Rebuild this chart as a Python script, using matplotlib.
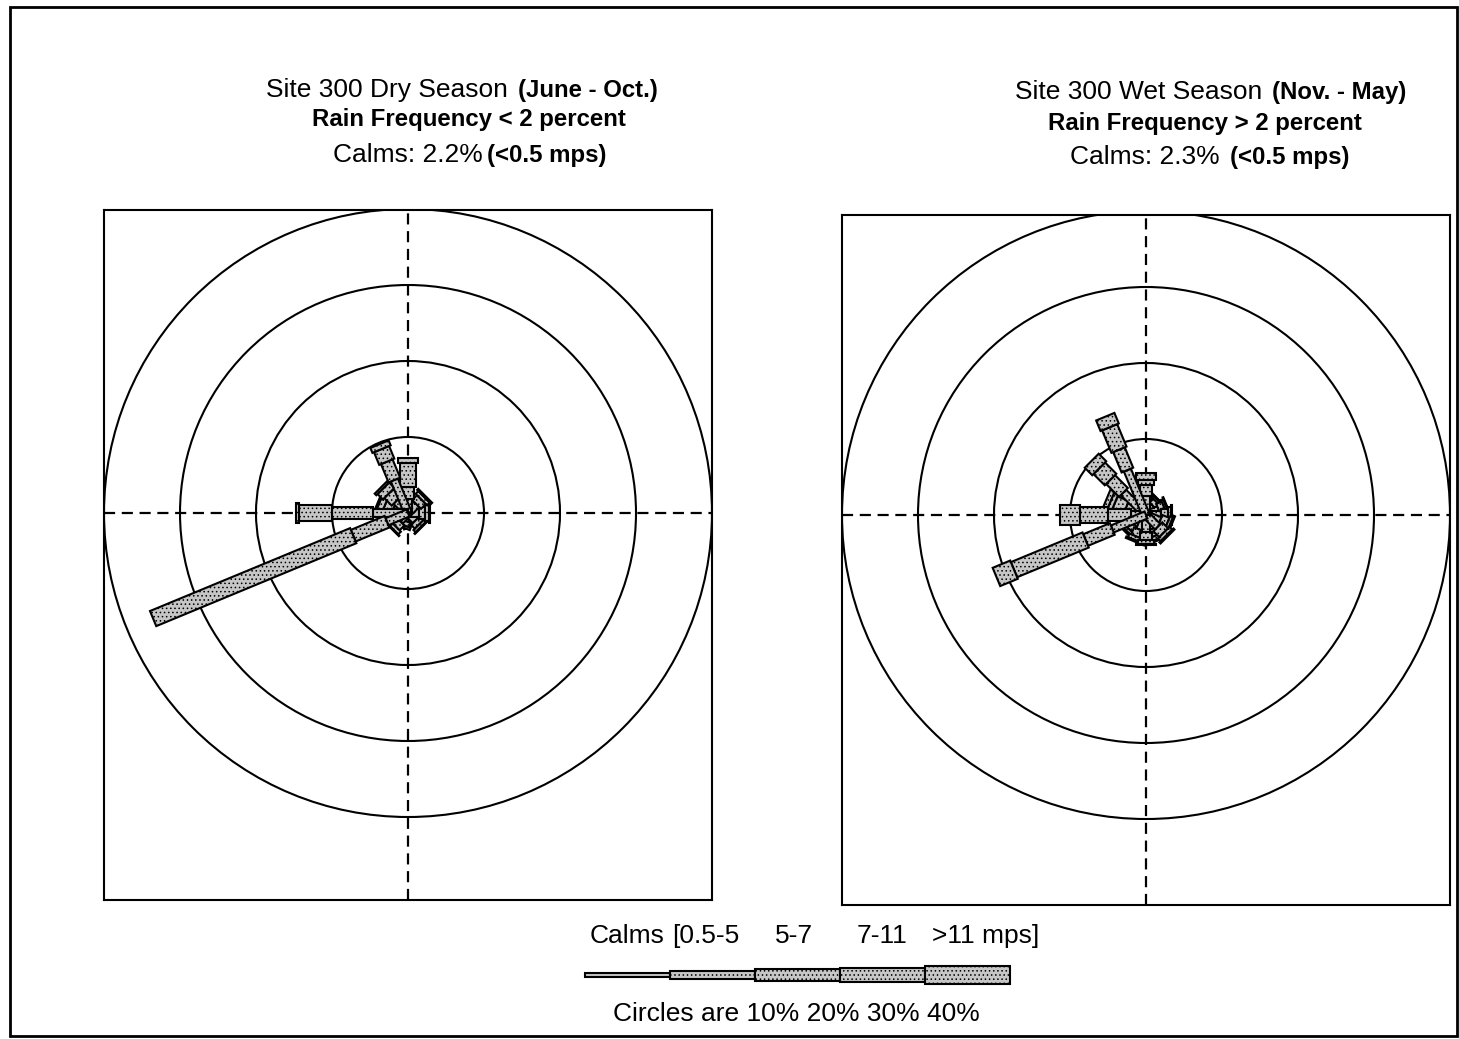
import numpy as np
import matplotlib
matplotlib.use("Agg")
import matplotlib.pyplot as plt
from matplotlib.patches import Polygon, Circle, Rectangle

plt.rcParams['font.family'] = ['Liberation Sans', 'DejaVu Sans']
plt.rcParams['hatch.color'] = '#858585'
plt.rcParams['hatch.linewidth'] = 0.6

# ---------------------------------------------------------------- data
directions = ['N', 'NNE', 'NE', 'ENE', 'E', 'ESE', 'SE', 'SSE',
              'S', 'SSW', 'SW', 'WSW', 'W', 'WNW', 'NW', 'NNW']
direction_deg = [0, 22.5, 45, 67.5, 90, 112.5, 135, 157.5,
                 180, 202.5, 225, 247.5, 270, 292.5, 315, 337.5]
speed_classes = ['0.5-5', '5-7', '7-11', '>11 mps']
circle_levels = [10, 20, 30, 40]   # percent

# Dry season (June - Oct.), frequency in percent by speed class
dry_05_5 = [1.8, 1.2, 1.6, 1.3, 1.5, 1.1, 1.4, 1.0, 0.9, 1.1, 1.5, 3.0, 4.6, 2.0, 2.2, 4.7]
dry_5_7  = [1.6, 0.6, 0.9, 0.6, 0.8, 0.5, 0.7, 0.5, 0.4, 0.6, 0.9, 4.8, 5.4, 1.2, 1.4, 2.6]
dry_7_11 = [3.2, 0.2, 0.5, 0.3, 0.4, 0.2, 0.4, 0.2, 0.2, 0.3, 0.5, 28.5, 4.4, 0.8, 1.0, 1.8]
dry_gt11 = [0.6, 0.0, 0.2, 0.1, 0.2, 0.1, 0.1, 0.1, 0.1, 0.0, 0.1, 0.0, 0.3, 0.2, 0.3, 0.7]

# Wet season (Nov. - May), frequency in percent by speed class
wet_05_5 = [2.5, 1.5, 1.5, 1.8, 2.0, 2.0, 2.2, 2.0, 2.2, 2.1, 2.0, 4.8, 2.0, 2.8, 4.2, 6.4]
wet_5_7  = [1.4, 0.6, 0.7, 0.8, 0.9, 1.0, 1.1, 1.0, 1.1, 1.0, 0.9, 3.8, 3.0, 1.6, 2.4, 2.9]
wet_7_11 = [0.7, 0.2, 0.3, 0.3, 0.4, 0.4, 0.5, 0.5, 0.5, 0.5, 0.4, 10.2, 3.7, 0.6, 2.1, 3.2]
wet_gt11 = [0.9, 0.1, 0.1, 0.1, 0.1, 0.2, 0.2, 0.2, 0.2, 0.2, 0.2, 2.5, 2.6, 0.6, 1.4, 1.5]

# ---------------------------------------------------------------- style
W, H = 1459, 1039
bar_widths = [1.0, 1.65, 2.15, 2.6]        # bar thickness per speed class (% units)
calm_width = 0.55
face = '#c6c6c6'
hatch = '....'

fig = plt.figure(figsize=(W / 100, H / 100), dpi=100)
fig.patch.set_facecolor('white')


def px(x, y):
    return x / W, 1 - y / H


def axes_px(x0, y0, x1, y1):
    return fig.add_axes([x0 / W, 1 - y1 / H, (x1 - x0) / W, (y1 - y0) / H])


def segment(ax, theta_deg, r0, r1, width, z):
    t = np.deg2rad(theta_deg)
    u = np.array([np.sin(t), np.cos(t)])
    p = np.array([np.cos(t), -np.sin(t)]) * width / 2
    pts = [r0 * u + p, r1 * u + p, r1 * u - p, r0 * u - p]
    ax.add_patch(Polygon(pts, closed=True, facecolor=face, edgecolor='black',
                         lw=1.5, hatch=hatch, zorder=z, joinstyle='miter'))


def rose(ax, classes, ylim):
    ax.set_xlim(-40, 40)
    ax.set_ylim(*ylim)
    ax.set_xticks([])
    ax.set_yticks([])
    for s in ax.spines.values():
        s.set_linewidth(1.5)
    ax.axhline(0, color='black', lw=1.6, ls=(0, (5, 3)), zorder=1)
    ax.axvline(0, color='black', lw=1.6, ls=(0, (5, 3)), zorder=1)
    for lev in circle_levels:
        ax.add_patch(Circle((0, 0), lev, fill=False, edgecolor='black',
                            lw=1.5, zorder=2))
    totals = np.sum(classes, axis=0)
    order = np.argsort(totals)
    for k, i in enumerate(order):
        r = 0.0
        for c, vals in enumerate(classes):
            v = vals[i]
            if v > 0:
                segment(ax, direction_deg[i], r, r + v, bar_widths[c], 3 + k * 0.01)
                r += v


ax1 = axes_px(104, 210, 712, 900)
rose(ax1, [dry_05_5, dry_5_7, dry_7_11, dry_gt11],
     (-(900 - 513) / 7.6, (513 - 210) / 7.6))

ax2 = axes_px(842, 215, 1450, 905)
rose(ax2, [wet_05_5, wet_5_7, wet_7_11, wet_gt11],
     (-(905 - 515) / 7.6, (515 - 215) / 7.6))

# ---------------------------------------------------------------- titles
REG = 19
BLD = 17.3


def txt(x, y, s, size, weight='normal', ha='left'):
    fig.text(*px(x, y), s, fontsize=size, fontweight=weight, ha=ha, va='baseline')


txt(266, 97, 'Site 300 Dry Season', REG)
txt(518, 97, '(June - Oct.)', BLD, 'bold')
txt(469, 126, 'Rain Frequency < 2 percent', BLD, 'bold', ha='center')
txt(333, 162, 'Calms: 2.2%', REG)
txt(487, 162, '(<0.5 mps)', BLD, 'bold')

txt(1015, 99, 'Site 300 Wet Season', REG)
txt(1272, 99, '(Nov. - May)', BLD, 'bold')
txt(1205, 130, 'Rain Frequency > 2 percent', BLD, 'bold', ha='center')
txt(1070, 164, 'Calms: 2.3%', REG)
txt(1230, 164, '(<0.5 mps)', BLD, 'bold')

# ---------------------------------------------------------------- legend
txt(590, 943, 'Calms', REG)
txt(672, 943, '[0.5-5', REG)
txt(775, 943, '5-7', REG)
txt(857, 943, '7-11', REG)
txt(932, 943, '>11 mps]', REG)

lax = axes_px(580, 960, 1015, 990)
lax.set_xlim(-5 / 85, 5 + 5 / 85)
lax.set_ylim(-15 / 7.6, 15 / 7.6)
lax.axis('off')
legend_widths = [calm_width] + [0.95, 1.45, 1.85, 2.3]
for k, w in enumerate(legend_widths):
    lax.add_patch(Rectangle((k, -w / 2), 1, w, facecolor=face, edgecolor='black',
                            lw=1.5, hatch=hatch if k else None))

txt(796, 1021, 'Circles are 10% 20% 30% 40%', REG, ha='center')

# outer frame
fig.add_artist(Rectangle(px(10, 1036), (1457 - 10) / W, (1036 - 7) / H,
                         transform=fig.transFigure, fill=False,
                         edgecolor='black', lw=2))

fig.savefig('out.png', dpi=100, facecolor='white')
